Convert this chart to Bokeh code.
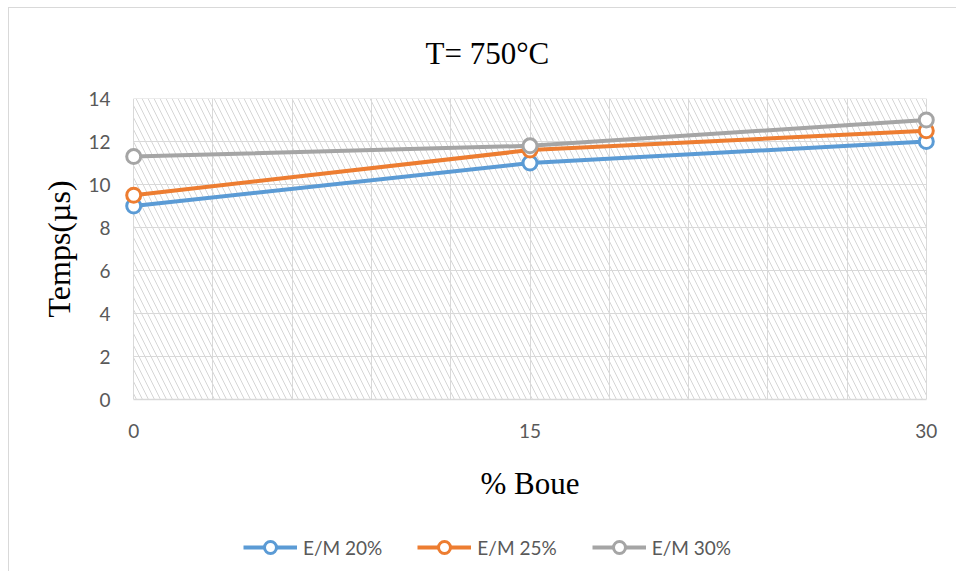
from bokeh.plotting import figure
from bokeh.layouts import column
from bokeh.models import FixedTicker, Legend, LegendItem, ColumnDataSource
from bokeh.embed import file_html
from bokeh.resources import INLINE

# ---- data ----
boue = [0, 15, 30]
em20 = [9.0, 11.0, 12.0]
em25 = [9.5, 11.6, 12.5]
em30 = [11.3, 11.8, 13.0]
series_names = ["E/M 20%", "E/M 25%", "E/M 30%"]
colors = ["#5B9BD5", "#ED7D31", "#A5A5A5"]
x_tick_labels = [0, 15, 30]
x_grid_positions = [0, 3, 6, 9, 12, 15, 18, 21, 24, 27, 30]
y_ticks = [0, 2, 4, 6, 8, 10, 12, 14]
title_text = "T= 750°C"
x_label = "% Boue"
y_label = "Temps(µs)"

LINE_W = 4
MARK_SIZE = 14
MARK_LW = 3

p = figure(width=947, height=502, output_backend="svg", toolbar_location=None,
           x_range=(-0.5, 30.5), y_range=(0, 14),
           min_border_left=111, min_border_right=17,
           min_border_top=90, min_border_bottom=111)
p.outline_line_color = None
p.background_fill_color = "white"
p.border_fill_color = "white"
p.title.text = title_text
p.title.text_font = "Liberation Serif"
p.title.text_font_size = "31px"
p.title.text_font_style = "normal"
p.title.text_color = "black"
p.title.align = "left"
p.title.offset = 305
p.title.vertical_align = "top"
p.title.standoff = 52

# hatched plot area
p.quad(left=[min(x_grid_positions)], right=[max(x_grid_positions)],
       bottom=[min(y_ticks)], top=[max(y_ticks)],
       fill_alpha=0, line_color=None,
       hatch_pattern="\\", hatch_color="#D6D6D6", hatch_scale=12,
       hatch_weight=1, level="image")

# grid
p.xgrid.ticker = FixedTicker(ticks=x_grid_positions)
p.xgrid.grid_line_color = "#D9D9D9"
p.xgrid.grid_line_width = 1
p.ygrid.grid_line_color = None
p.segment(x0=[min(x_grid_positions)] * len(y_ticks), x1=[max(x_grid_positions)] * len(y_ticks),
          y0=y_ticks, y1=y_ticks, line_color="#D9D9D9", line_width=1, level="underlay")

# axes
p.xaxis.ticker = FixedTicker(ticks=x_tick_labels)
p.xaxis.bounds = (min(x_grid_positions), max(x_grid_positions))
p.xaxis.axis_line_color = "#D9D9D9"
p.xaxis.axis_line_width = 1.5
p.xaxis.major_tick_line_color = None
p.xaxis.minor_tick_line_color = None
p.xaxis.major_label_text_font = "Lato"
p.xaxis.major_label_text_font_size = "19px"
p.xaxis.major_label_text_color = "#595959"
p.xaxis.major_label_standoff = 18
p.xaxis.axis_label = x_label
p.xaxis.axis_label_text_font = "Liberation Serif"
p.xaxis.axis_label_text_font_style = "normal"
p.xaxis.axis_label_text_font_size = "31px"
p.xaxis.axis_label_text_color = "black"
p.xaxis.axis_label_standoff = 25

p.yaxis.ticker = FixedTicker(ticks=y_ticks)
p.yaxis.axis_line_color = None
p.yaxis.major_tick_line_color = None
p.yaxis.minor_tick_line_color = None
p.yaxis.major_label_text_font = "Lato"
p.yaxis.major_label_text_font_size = "19px"
p.yaxis.major_label_text_color = "#595959"
p.yaxis.major_label_standoff = 4
p.yaxis.axis_label = y_label
p.yaxis.axis_label_text_font = "Liberation Serif"
p.yaxis.axis_label_text_font_style = "normal"
p.yaxis.axis_label_text_font_size = "32px"
p.yaxis.axis_label_text_color = "black"
p.yaxis.axis_label_standoff = 8

# series
for name, ys, c in zip(series_names, [em20, em25, em30], colors):
    src = ColumnDataSource(dict(x=boue, y=ys))
    p.line("x", "y", source=src, line_color=c, line_width=LINE_W)
    p.scatter("x", "y", source=src, marker="circle", size=MARK_SIZE,
              fill_color="white", line_color=c, line_width=MARK_LW)

# legend strip (separate figure below the chart, frame aligned with the chart)
lg = figure(width=947, height=61, output_backend="svg", toolbar_location=None,
            x_axis_type=None, y_axis_type=None, x_range=(0, 1), y_range=(0, 1),
            min_border=0)
lg.outline_line_color = None
lg.xgrid.visible = False
lg.ygrid.visible = False
items = []
for name, c in zip(series_names, colors):
    proxy = ColumnDataSource(dict(x=[float("nan")], y=[float("nan")]))
    l = lg.line("x", "y", source=proxy, line_color=c, line_width=LINE_W)
    s = lg.scatter("x", "y", source=proxy, marker="circle", size=MARK_SIZE,
                   fill_color="white", line_color=c, line_width=MARK_LW)
    items.append(LegendItem(label=name, renderers=[l, s]))
legend = Legend(items=items, orientation="horizontal", location=(123, 9),
                glyph_width=54, glyph_height=30, label_standoff=6, spacing=35,
                padding=0, margin=0, border_line_color=None, background_fill_alpha=0,
                label_text_font="Lato", label_text_font_size="19px",
                label_text_color="#595959", label_height=30)
lg.add_layout(legend, "center")

layout = column(p, lg, spacing=0,
                styles={"margin-left": "8px", "margin-top": "7px",
                        "border-left": "1px solid #D9D9D9",
                        "border-top": "1px solid #D9D9D9"})
open("out.html", "w").write(file_html(layout, INLINE))
